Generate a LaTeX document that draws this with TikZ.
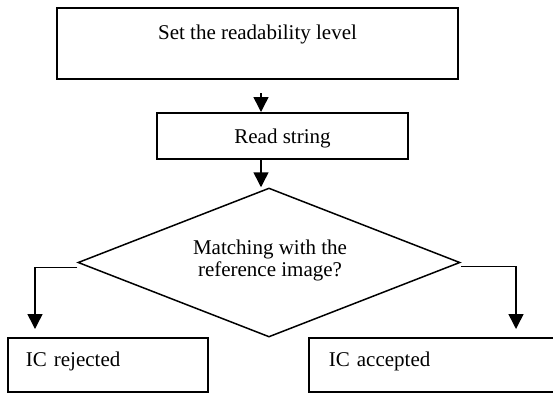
\documentclass[tikz,border=0pt]{standalone}
\usepackage{fontspec}
\setmainfont{Liberation Serif}
\usetikzlibrary{arrows.meta,shapes.geometric}
\begin{document}
\begin{tikzpicture}[x=1pt,y=-1pt,
  boxstyle/.style={draw,line width=1.8pt,inner sep=0pt,font=\fontsize{21}{22.5}\selectfont},
  diastyle/.style={draw,diamond,line width=1.5pt,inner sep=0pt,minimum width=382pt,minimum height=149pt},
  conn/.style={line width=1.5pt,-{Triangle[width=15pt,length=15pt]}},
  lbl/.style={inner sep=0pt,align=center,font=\fontsize{21}{22.5}\selectfont}]
\useasboundingbox (0,0) rectangle (553,392);
\clip (0,0) rectangle (553,392);
\node[boxstyle,anchor=north,minimum width=401pt,text height=32pt,text depth=39pt] (top) at (257.5,7) {Set the readability level};
\node[boxstyle,anchor=north,minimum width=251pt,text height=31pt,text depth=15pt] (rs) at (282.5,112) {Read string};
\node[diastyle] (d) at (269,262.5) {};
\node[lbl] (q) at (270,260.4) {Matching with the\\reference image?};
\node[boxstyle,anchor=north west,inner xsep=18pt,text width=164pt,align=left,text height=29pt,text depth=25pt] (rej) at (7,337) {IC rejected};
\node[boxstyle,anchor=north west,inner xsep=20pt,text width=222pt,align=left,text height=29pt,text depth=25pt] (acc) at (308,337) {IC accepted};
\coordinate (a1) at (261,93);
\coordinate (lt) at (35,329);
\coordinate (rt) at (516,329);
\draw[conn] (a1) -- (a1 |- rs.north);
\draw[conn] (a1 |- rs.south) -- (a1 |- d.north);
\draw[conn] ([yshift=-5pt]d.west) -| (lt);
\draw[conn] ([yshift=-4pt]d.east) -| (rt);
\end{tikzpicture}
\end{document}
